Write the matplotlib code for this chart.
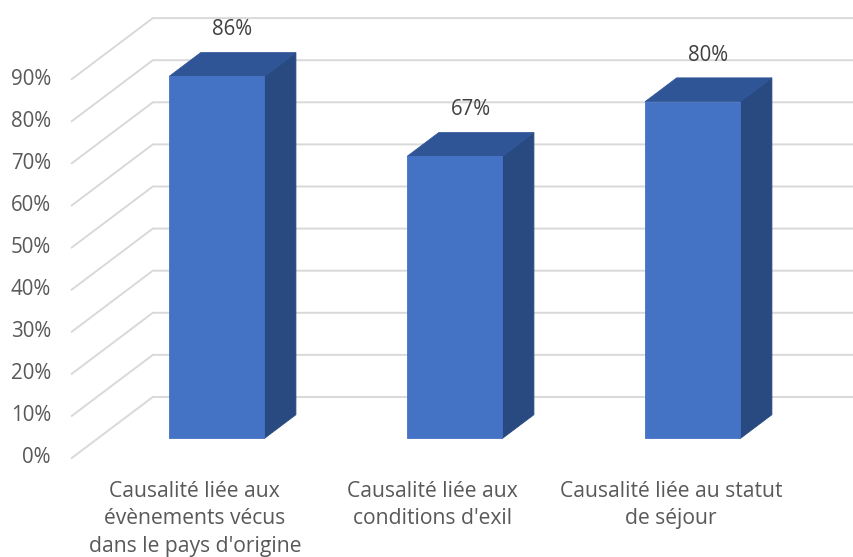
import numpy as np
import matplotlib.pyplot as plt
from matplotlib.patches import Polygon

plt.rcParams['font.family'] = ['Open Sans', 'DejaVu Sans']

categories = [
    "Causalité liée aux\névènements vécus\ndans le pays d'origine",
    "Causalité liée aux\nconditions d'exil",
    "Causalité liée au statut\nde séjour",
]
values = [0.86, 0.67, 0.80]
value_labels = ["86%", "67%", "80%"]
tick_values = [0.0, 0.1, 0.2, 0.3, 0.4, 0.5, 0.6, 0.7, 0.8, 0.9]
tick_labels = ["0%", "10%", "20%", "30%", "40%", "50%", "60%", "70%", "80%", "90%"]

FRONT = '#4472C4'
TOP = '#2F5597'
SIDE = '#294A80'
GRID = '#D9D9D9'

# oblique projection: depth d in [0, 1] moves a point right and up
DEPTH_X = 81 / 238
DEPTH_Y = 61 / 421
BAR_HALF = 0.2
D_FRONT, D_BACK = 0.32, 0.71


def proj(x, v, d=0.0):
    return (x + DEPTH_X * d, v + DEPTH_Y * d)


fig = plt.figure(figsize=(8.54, 5.57), dpi=100)
ax = fig.add_axes([0, 0, 1, 1])
ax.set_xlim(-0.8017, 2.7866)
ax.set_ylim(-0.2352, 1.0879)
ax.axis('off')

# side wall + back wall gridlines
for t, lab in zip(tick_values, tick_labels):
    pts = [proj(-0.5, t, 0), proj(-0.5, t, 1), proj(2.7, t, 1)]
    xs, ys = zip(*pts)
    ax.plot(xs, ys, color=GRID, lw=1.4, zorder=1, solid_joinstyle='miter')
    ax.annotate(lab, proj(-0.5, t, 0), xytext=(-15, 0), textcoords='offset points',
                ha='right', va='center', fontsize=14.8, color='#595959')

# bars: side, top and front faces
for i, v in enumerate(values):
    l, r = i - BAR_HALF, i + BAR_HALF
    side = [proj(r, 0, D_FRONT), proj(r, 0, D_BACK), proj(r, v, D_BACK), proj(r, v, D_FRONT)]
    top = [proj(l, v, D_FRONT), proj(r, v, D_FRONT), proj(r, v, D_BACK), proj(l, v, D_BACK)]
    front = [proj(l, 0, D_FRONT), proj(r, 0, D_FRONT), proj(r, v, D_FRONT), proj(l, v, D_FRONT)]
    for poly, col in [(side, SIDE), (top, TOP), (front, FRONT)]:
        ax.add_patch(Polygon(poly, closed=True, facecolor=col, edgecolor=col,
                             lw=0.6, zorder=3))
    ax.annotate(value_labels[i], proj(i, v, (D_FRONT + D_BACK) / 2), xytext=(0, 25),
                textcoords='offset points', ha='center', va='center',
                fontsize=14.8, color='#404040', zorder=4)

# category labels under the floor
for i, cat in enumerate(categories):
    ax.annotate(cat, proj(i, 0, 0.05), xytext=(0, -18.5), textcoords='offset points',
                ha='center', va='top', fontsize=15.2, color='#595959', linespacing=1.42)

fig.savefig('out.png', dpi=100, facecolor='white')
